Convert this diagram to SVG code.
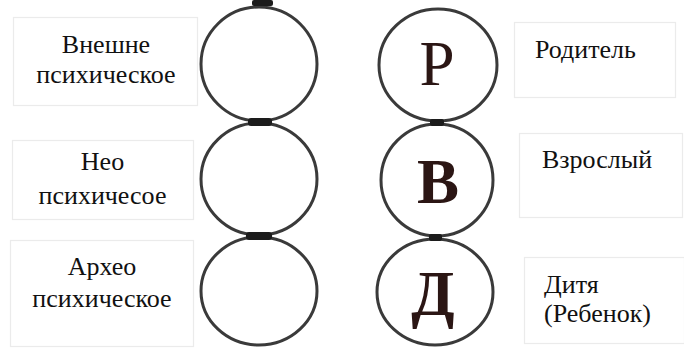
<svg xmlns="http://www.w3.org/2000/svg" width="684" height="349" viewBox="0 0 684 349">
<style>
.box{fill:#fff;stroke:#ebebeb;stroke-width:1.2}
.lbl{font-family:'Liberation Serif','Times New Roman',serif;font-size:26px;fill:#111}
.c{text-anchor:middle}
.ring{fill:#fff;stroke:#3a3a3a;stroke-width:3}
.let{font-family:'Liberation Serif','Times New Roman',serif;font-size:63px;fill:#2b1614;text-anchor:middle}
.blob{fill:#1c1c1c}
</style>
<rect width="684" height="349" fill="#fff"/>
<g id="box-vneshne">
<rect class="box" x="13.5" y="17.5" width="184" height="88"/>
<text class="lbl c" x="106" y="53">Внешне</text>
<text class="lbl c" x="106" y="83">психическое</text>
</g>
<g id="box-neo">
<rect class="box" x="12.5" y="140.5" width="181" height="79"/>
<text class="lbl c" x="102.5" y="170">Нео</text>
<text class="lbl c" x="102.5" y="204">психичесое</text>
</g>
<g id="box-arheo">
<rect class="box" x="10.5" y="240.5" width="183" height="106"/>
<text class="lbl c" x="102" y="275">Архео</text>
<text class="lbl c" x="102" y="307">психическое</text>
</g>
<g id="circle-left-1"><ellipse class="ring" cx="259" cy="64" rx="58" ry="57"/></g>
<g id="circle-left-2"><ellipse class="ring" cx="259" cy="179" rx="58" ry="56"/></g>
<g id="circle-left-3"><ellipse class="ring" cx="259" cy="291" rx="58" ry="54"/></g>
<g id="circle-P"><ellipse class="ring" cx="438" cy="65" rx="59" ry="56"/><text class="let" x="437" y="85">Р</text></g>
<g id="circle-B"><ellipse class="ring" cx="437" cy="180" rx="56" ry="56"/><text class="let" x="438" y="203" font-weight="bold">В</text></g>
<g id="circle-D"><ellipse class="ring" cx="435" cy="292" rx="58" ry="53"/><text class="let" x="433" y="315" font-weight="bold">Д</text></g>
<g id="box-roditel">
<rect class="box" x="514.5" y="22.5" width="161" height="75"/>
<text class="lbl" x="535" y="58">Родитель</text>
</g>
<g id="box-vzrosly">
<rect class="box" x="519.5" y="133.5" width="163" height="84"/>
<text class="lbl" x="542" y="168">Взрослый</text>
</g>
<g id="box-ditya">
<rect class="box" x="524.5" y="257.5" width="160" height="86"/>
<text class="lbl" x="544" y="293">Дитя</text>
<text class="lbl" x="544" y="322">(Ребенок)</text>
</g>
<g id="connectors">
<rect class="blob" x="252" y="0" width="21" height="6" rx="2" fill="#1a2233"/>
<rect class="blob" x="248" y="118" width="24" height="8" rx="3"/>
<rect class="blob" x="246" y="232" width="26" height="8" rx="3"/>
<rect class="blob" x="430" y="119" width="14" height="7" rx="2"/>
<rect class="blob" x="429" y="234" width="13" height="7" rx="2"/>
</g>
</svg>
